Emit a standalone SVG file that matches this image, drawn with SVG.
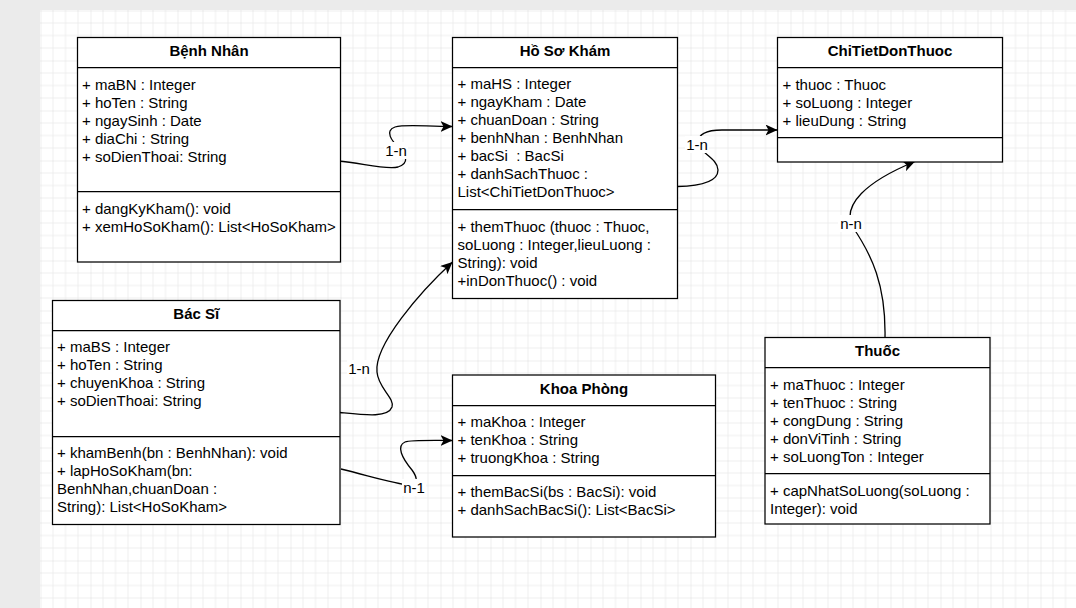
<svg xmlns="http://www.w3.org/2000/svg" width="1076" height="608" viewBox="0 0 1076 608">
<defs>
<pattern id="grid" patternUnits="userSpaceOnUse" x="40.5" y="10.5" width="50" height="50">
<path d="M12.5,0V50M25,0V50M37.5,0V50M0,12.5H50M0,25H50M0,37.5H50" stroke="#eeeeee" stroke-width="1" fill="none"/>
<path d="M0,0V50M0,0H50" stroke="#dedede" stroke-width="1" fill="none"/>
</pattern>
<marker id="arr" viewBox="0 0 12 11" refX="12" refY="5.5" markerWidth="12" markerHeight="11" markerUnits="userSpaceOnUse" orient="auto">
<path d="M0,0 L12,5.5 L0,11 L3,5.5 Z" fill="#000"/>
</marker>
<style>
.box{fill:#fff;stroke:#000;stroke-width:1.25}
.sep{stroke:#000;stroke-width:1.25}
.t{font-family:"Liberation Sans",Arial,Helvetica,sans-serif;font-size:15px;fill:#000}
.h{font-weight:bold;text-anchor:middle}
.edge{fill:none;stroke:#000;stroke-width:1.3}
.lbg{fill:#fff}
.lbl{font-family:"Liberation Sans",Arial,Helvetica,sans-serif;font-size:15px;fill:#000;text-anchor:middle}
</style>
</defs>
<rect x="0" y="0" width="1076" height="608" fill="#ebebeb"/>
<rect x="40" y="10" width="1036" height="598" fill="#fff"/>
<rect x="40" y="10" width="1036" height="598" fill="url(#grid)"/>

<g id="connectors">
<path class="edge" d="M338,161 C362,163 385,170 398,167 C410,163 406,155 399,148 C392,141 384,131 395,127 C405,124 425,126.5 452.5,126.5" marker-end="url(#arr)"/>
<path class="edge" d="M677.5,186.5 C700,186 718,182 718,170 C718,158 698,152 698,143 C698,133 708,130 722,130 L777.5,130" marker-end="url(#arr)"/>
<path class="edge" d="M885,337.5 C886,285 872,255 852,226 C843,205 865,182 915,161.5" marker-end="url(#arr)"/>
<path class="edge" d="M340,412.5 C365,415 388,418 392,407 C395,398 378,388 377,372 C374,345 420,292 452.5,262" marker-end="url(#arr)"/>
<path class="edge" d="M341,469 C370,476 395,484 410,485 C418,486 418,478 412,470 C402,458 396,446 405,442 C410,440 425,440.5 452.5,440.5" marker-end="url(#arr)"/>
<rect class="lbg" x="384" y="142" width="24" height="17"/>
<text class="lbl" x="396" y="155.5">1-n</text>
<rect class="lbg" x="685" y="136" width="24" height="17"/>
<text class="lbl" x="697" y="149.5">1-n</text>
<rect class="lbg" x="347" y="360" width="24" height="17"/>
<text class="lbl" x="359" y="373.5">1-n</text>
<rect class="lbg" x="402" y="479" width="24" height="17"/>
<text class="lbl" x="414" y="492.5">n-1</text>
<rect class="lbg" x="838" y="215" width="26" height="17"/>
<text class="lbl" x="851" y="229">n-n</text>
</g>

<g id="benhnhan">
<rect class="box" x="77.5" y="37.5" width="263" height="224.5"/>
<line class="sep" x1="77.5" y1="67.5" x2="340.5" y2="67.5"/>
<line class="sep" x1="77.5" y1="191.5" x2="340.5" y2="191.5"/>
<text class="t h" x="209" y="56">Bệnh Nhân</text>
<text class="t" x="82" y="89.7">+ maBN : Integer</text>
<text class="t" x="82" y="107.7">+ hoTen : String</text>
<text class="t" x="82" y="125.7">+ ngaySinh : Date</text>
<text class="t" x="82" y="143.7">+ diaChi : String</text>
<text class="t" x="82" y="161.7">+ soDienThoai: String</text>
<text class="t" x="82" y="213.7">+ dangKyKham(): void</text>
<text class="t" x="82" y="231.7">+ xemHoSoKham(): List&lt;HoSoKham&gt;</text>
</g>

<g id="hosokham">
<rect class="box" x="452.5" y="37.5" width="225" height="261"/>
<line class="sep" x1="452.5" y1="67.5" x2="677.5" y2="67.5"/>
<line class="sep" x1="452.5" y1="209.5" x2="677.5" y2="209.5"/>
<text class="t h" x="565" y="56">Hồ Sơ Khám</text>
<text class="t" x="457.5" y="89.3">+ maHS : Integer</text>
<text class="t" x="457.5" y="107.3">+ ngayKham : Date</text>
<text class="t" x="457.5" y="125.3">+ chuanDoan : String</text>
<text class="t" x="457.5" y="143.3">+ benhNhan : BenhNhan</text>
<text class="t" x="457.5" y="161.3" xml:space="preserve">+ bacSi  : BacSi</text>
<text class="t" x="457.5" y="179.3">+ danhSachThuoc :</text>
<text class="t" x="457.5" y="197.3">List&lt;ChiTietDonThuoc&gt;</text>
<text class="t" x="457.5" y="231.7">+ themThuoc (thuoc : Thuoc,</text>
<text class="t" x="457.5" y="249.7">soLuong : Integer,lieuLuong :</text>
<text class="t" x="457.5" y="267.7">String): void</text>
<text class="t" x="457.5" y="285.7">+inDonThuoc() : void</text>
</g>

<g id="chitietdonthuoc">
<rect class="box" x="777.5" y="37.5" width="225" height="124.5"/>
<line class="sep" x1="777.5" y1="67.5" x2="1002.5" y2="67.5"/>
<line class="sep" x1="777.5" y1="137.5" x2="1002.5" y2="137.5"/>
<text class="t h" x="890" y="56">ChiTietDonThuoc</text>
<text class="t" x="782.5" y="89.7">+ thuoc : Thuoc</text>
<text class="t" x="782.5" y="107.7">+ soLuong : Integer</text>
<text class="t" x="782.5" y="125.7">+ lieuDung : String</text>
</g>

<g id="bacsi">
<rect class="box" x="52.5" y="300.5" width="287.5" height="224"/>
<line class="sep" x1="52.5" y1="330.5" x2="340" y2="330.5"/>
<line class="sep" x1="52.5" y1="436.5" x2="340" y2="436.5"/>
<text class="t h" x="196.25" y="318.5">Bác Sĩ</text>
<text class="t" x="57" y="351.5">+ maBS : Integer</text>
<text class="t" x="57" y="369.5">+ hoTen : String</text>
<text class="t" x="57" y="387.5">+ chuyenKhoa : String</text>
<text class="t" x="57" y="405.5">+ soDienThoai: String</text>
<text class="t" x="57" y="457.8">+ khamBenh(bn : BenhNhan): void</text>
<text class="t" x="57" y="475.8">+ lapHoSoKham(bn:</text>
<text class="t" x="57" y="493.8">BenhNhan,chuanDoan :</text>
<text class="t" x="57" y="511.8">String): List&lt;HoSoKham&gt;</text>
</g>

<g id="khoaphong">
<rect class="box" x="452.5" y="375" width="263" height="162"/>
<line class="sep" x1="452.5" y1="405.5" x2="715.5" y2="405.5"/>
<line class="sep" x1="452.5" y1="475.5" x2="715.5" y2="475.5"/>
<text class="t h" x="584" y="393.5">Khoa Phòng</text>
<text class="t" x="457.5" y="426.8">+ maKhoa : Integer</text>
<text class="t" x="457.5" y="444.8">+ tenKhoa : String</text>
<text class="t" x="457.5" y="462.8">+ truongKhoa : String</text>
<text class="t" x="457.5" y="496.6">+ themBacSi(bs : BacSi): void</text>
<text class="t" x="457.5" y="514.6">+ danhSachBacSi(): List&lt;BacSi&gt;</text>
</g>

<g id="thuoc">
<rect class="box" x="765" y="337.5" width="225" height="186.5"/>
<line class="sep" x1="765" y1="367.5" x2="990" y2="367.5"/>
<line class="sep" x1="765" y1="473.5" x2="990" y2="473.5"/>
<text class="t h" x="877.5" y="356">Thuốc</text>
<text class="t" x="770" y="389.6">+ maThuoc : Integer</text>
<text class="t" x="770" y="407.6">+ tenThuoc : String</text>
<text class="t" x="770" y="425.6">+ congDung : String</text>
<text class="t" x="770" y="443.6">+ donViTinh : String</text>
<text class="t" x="770" y="461.6">+ soLuongTon : Integer</text>
<text class="t" x="770" y="496.2">+ capNhatSoLuong(soLuong :</text>
<text class="t" x="770" y="514.2">Integer): void</text>
</g>
</svg>
